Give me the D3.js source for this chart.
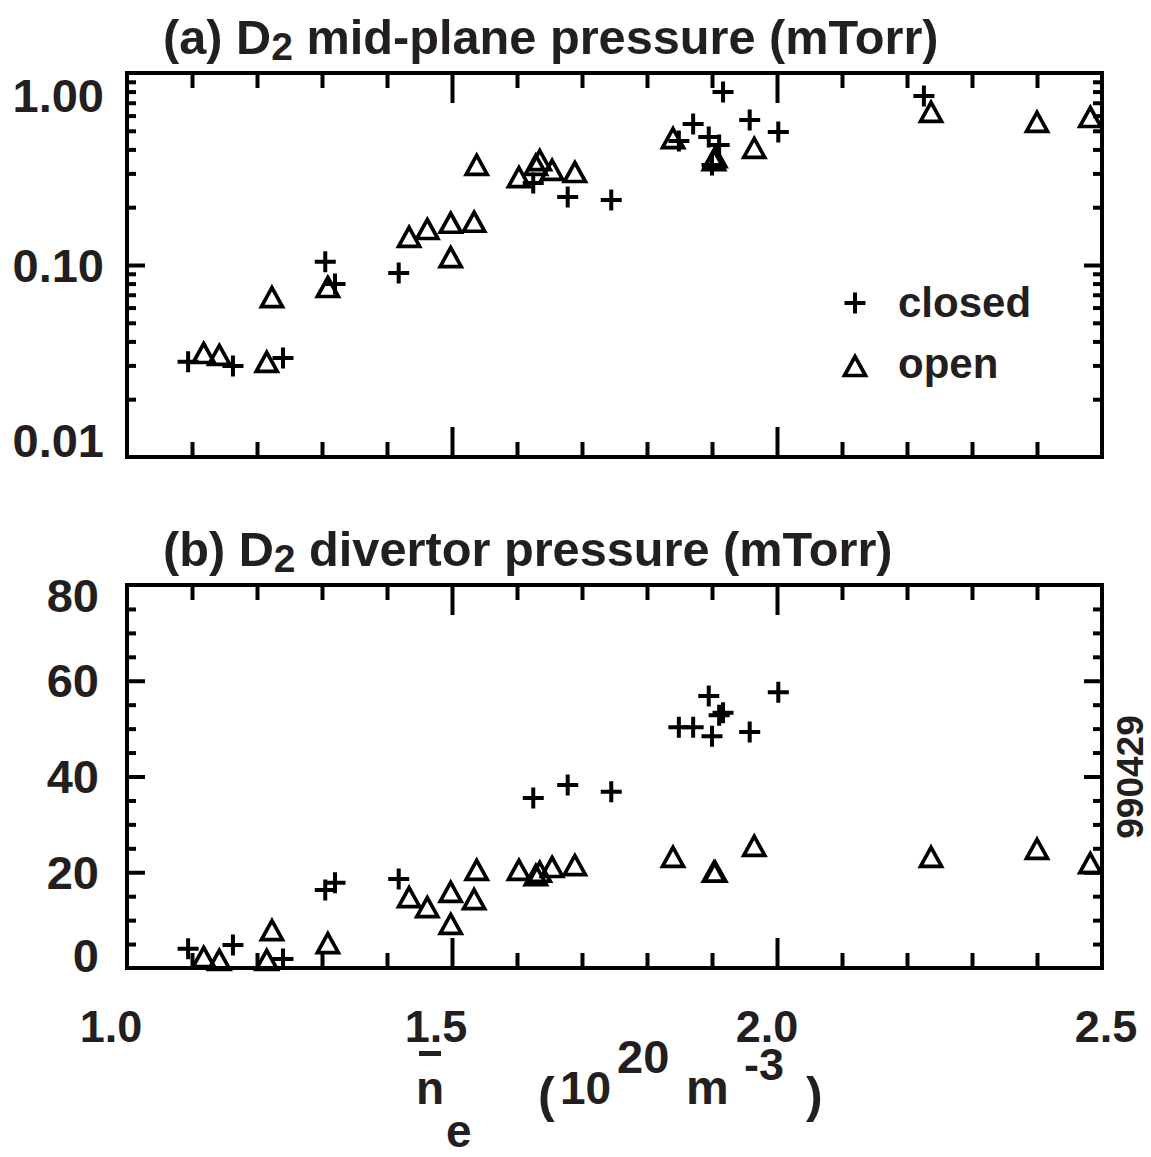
<!DOCTYPE html>
<html><head><meta charset="utf-8">
<script src="https://cdn.jsdelivr.net/npm/d3@7"></script>
<style>
body{margin:0;background:#fff}
text{font-family:"Liberation Sans",Arial,Helvetica,sans-serif;font-weight:bold;fill:#231f20}
</style>
</head><body>
<svg id="chart" width="1151" height="1157"></svg>
<script>
// ---- data ----
const closedNe  = [1.094,1.163,1.240,1.305,1.320,1.418,1.625,1.678,1.745,1.849,1.871,1.895,1.911,1.900,1.917,1.958,2.002,2.226];
const closedMid = [0.0313,0.0298,0.0328,0.104,0.0796,0.0908,0.267,0.226,0.218,0.442,0.542,0.464,0.422,0.332,0.796,0.569,0.493,0.759];
const closedDiv = [4.0,4.8,1.9,16.3,17.8,18.6,35.5,38.2,36.8,50.3,50.3,56.8,52.8,48.4,53.3,49.3,57.6,null];

const openNe  = [1.118,1.142,1.215,1.223,1.309,1.434,1.462,1.498,1.498,1.534,1.538,1.603,1.629,1.635,1.654,1.689,1.840,1.903,1.905,1.965,2.237,2.400,2.482];
const openMid = [0.0348,0.0340,0.0313,0.0681,0.0768,0.140,0.154,0.166,0.110,0.168,0.332,0.287,0.332,0.352,0.313,0.305,0.458,0.352,0.365,0.407,0.627,0.556,0.590];
const openDiv = [2.3,1.7,1.7,7.9,5.2,14.8,12.7,15.9,9.2,14.4,20.5,20.5,19.4,20.1,21.1,21.5,23.2,20.1,20.1,25.5,23.2,24.9,21.9];

const xTickValues = [1.0,1.5,2.0,2.5];
const xTickLabels = ["1.0","1.5","2.0","2.5"];
const midTickValues = [0.01,0.1,1];
const midTickLabels = ["0.01","0.10","1.00"];
const divTickValues = [0,20,40,60,80];
const divTickLabels = ["0","20","40","60","80"];
const legendLabels = ["closed","open"];
const titleA = ["(a) D","2"," mid-plane pressure (mTorr)"];
const titleB = ["(b) D","2"," divertor pressure (mTorr)"];
const figId = "990429";

// ---- layout ----
const svg = d3.select("#chart");
const L = 127, R = 1102;
const x = d3.scaleLinear().domain([1.0,2.5]).range([L,R]);
const panelA = {top:73, bottom:457};
const panelB = {top:585, bottom:968};
const yA = d3.scaleLog().domain([0.01,1]).range([panelA.bottom, panelA.top]);
const yB = d3.scaleLinear().domain([0,80]).range([panelB.bottom, panelB.top]);

const xMinor = d3.range(1.1,2.45,0.1).map(v=>+v.toFixed(2)).filter(v=>!xTickValues.includes(v));
const xMajorInner = [1.5,2.0];

function styleAxis(g){
  g.select(".domain").remove();
  g.selectAll("line").attr("stroke","#000").attr("stroke-width",4);
  g.selectAll("text").remove();
}

function drawFrame(p, y, yMajor, yMinor){
  const g = svg.append("g");
  g.append("g").attr("transform",`translate(0,${p.top})`).call(d3.axisTop(x).tickValues(xMajorInner).tickSize(-30)).call(styleAxis);
  g.append("g").attr("transform",`translate(0,${p.top})`).call(d3.axisTop(x).tickValues(xMinor).tickSize(-15)).call(styleAxis);
  g.append("g").attr("transform",`translate(0,${p.bottom})`).call(d3.axisBottom(x).tickValues(xMajorInner).tickSize(-30)).call(styleAxis);
  g.append("g").attr("transform",`translate(0,${p.bottom})`).call(d3.axisBottom(x).tickValues(xMinor).tickSize(-15)).call(styleAxis);
  g.append("g").attr("transform",`translate(${L},0)`).call(d3.axisLeft(y).tickValues(yMajor).tickSize(-18)).call(styleAxis);
  g.append("g").attr("transform",`translate(${L},0)`).call(d3.axisLeft(y).tickValues(yMinor).tickSize(-9)).call(styleAxis);
  g.append("g").attr("transform",`translate(${R},0)`).call(d3.axisRight(y).tickValues(yMajor).tickSize(-18)).call(styleAxis);
  g.append("g").attr("transform",`translate(${R},0)`).call(d3.axisRight(y).tickValues(yMinor).tickSize(-9)).call(styleAxis);
  g.append("rect").attr("x",L).attr("y",p.top).attr("width",R-L).attr("height",p.bottom-p.top)
    .attr("fill","none").attr("stroke","#000").attr("stroke-width",4);
}

const logMinor = [];
[0.01,0.1].forEach(d=>{ for(let k=2;k<=9;k++) logMinor.push(+(d*k).toPrecision(3)); });
drawFrame(panelA, yA, [0.1], logMinor);
const divMinor = d3.range(5,80,5).filter(v=>v%20!==0);
drawFrame(panelB, yB, [20,40,60], divMinor);

// y tick labels (end labels held inside the frame as in the reference)
function yLabels(y, vals, labels, p, padTop, padBot, xEnd){
  svg.append("g").selectAll("text").data(vals).join("text")
    .attr("x",xEnd)
    .attr("y",d=>Math.min(Math.max(y(d), p.top+padTop), p.bottom-padBot))
    .attr("text-anchor","end").attr("dominant-baseline","central")
    .attr("font-size",47)
    .text((d,i)=>labels[i]);
}
yLabels(yA, midTickValues, midTickLabels, panelA, 22, 17, 104);
yLabels(yB, divTickValues, divTickLabels, panelB, 10, 13, 99);

// x tick labels
const xLabelNudge = [-16,-16,-10,4];
svg.append("g").selectAll("text").data(xTickValues).join("text")
  .attr("x",(d,i)=>x(d)+xLabelNudge[i]).attr("y",1042)
  .attr("text-anchor","middle").attr("font-size",45)
  .text((d,i)=>xTickLabels[i]);

// titles
function title(parts, ty){
  const t = svg.append("text").attr("x",163).attr("y",ty).attr("font-size",48.7);
  t.append("tspan").text(parts[0]);
  t.append("tspan").attr("font-size",39).attr("dy",6).text(parts[1]);
  t.append("tspan").attr("dy",-6).text(parts[2]);
}
title(titleA, 54);
title(titleB, 566);

// markers
const plusPath = "M-10.5,0H10.5M0,-10.5V10.5";
const triPath = "M0,-9.5L10.5,9.5L-10.5,9.5Z";
function plus(g, data){
  g.selectAll("path.p").data(data).join("path").attr("class","p")
    .attr("transform",d=>`translate(${d[0]},${d[1]})`)
    .attr("d",plusPath).attr("stroke","#000").attr("stroke-width",4).attr("fill","none");
}
function tri(g, data){
  g.selectAll("path.t").data(data).join("path").attr("class","t")
    .attr("transform",d=>`translate(${d[0]},${d[1]})`)
    .attr("d",triPath).attr("stroke","#000").attr("stroke-width",3.7).attr("fill","none")
    .attr("stroke-linejoin","miter");
}
const gm = svg.append("g");
plus(gm.append("g"), closedNe.map((v,i)=>[x(v), yA(closedMid[i])]));
tri(gm.append("g"), openNe.map((v,i)=>[x(v), yA(openMid[i])]));
plus(gm.append("g"), closedNe.map((v,i)=>[v,closedDiv[i]]).filter(d=>d[1]!==null).map(d=>[x(d[0]), yB(d[1])]));
tri(gm.append("g"), openNe.map((v,i)=>[x(v), yB(openDiv[i])]));

// legend
const lg = svg.append("g");
plus(lg.append("g"), [[855,303]]);
tri(lg.append("g"), [[855,366]]);
lg.append("text").attr("x",898).attr("y",317).attr("font-size",42).text(legendLabels[0]);
lg.append("text").attr("x",898).attr("y",378).attr("font-size",42).text(legendLabels[1]);

// x axis label: n̄e ( 10^20 m^-3 )
const xl = svg.append("g");
xl.append("text").attr("x",416).attr("y",1104).attr("font-size",46).text("n");
xl.append("rect").attr("x",419).attr("y",1051).attr("width",22).attr("height",5).attr("fill","#231f20");
xl.append("text").attr("x",446).attr("y",1147).attr("font-size",46).text("e");
xl.append("text").attr("x",538).attr("y",1112).attr("font-size",50).text("(");
xl.append("text").attr("x",560).attr("y",1104).attr("font-size",46).text("10");
xl.append("text").attr("x",617).attr("y",1073).attr("font-size",47).text("20");
xl.append("text").attr("x",686).attr("y",1104).attr("font-size",48).text("m");
xl.append("text").attr("x",744).attr("y",1080).attr("font-size",45).text("-3");
xl.append("text").attr("x",806).attr("y",1112).attr("font-size",50).text(")");

// figure id
svg.append("text").attr("transform","translate(1143,777) rotate(-90)")
  .attr("text-anchor","middle").attr("font-size",37).text(figId);
</script>
</body></html>
